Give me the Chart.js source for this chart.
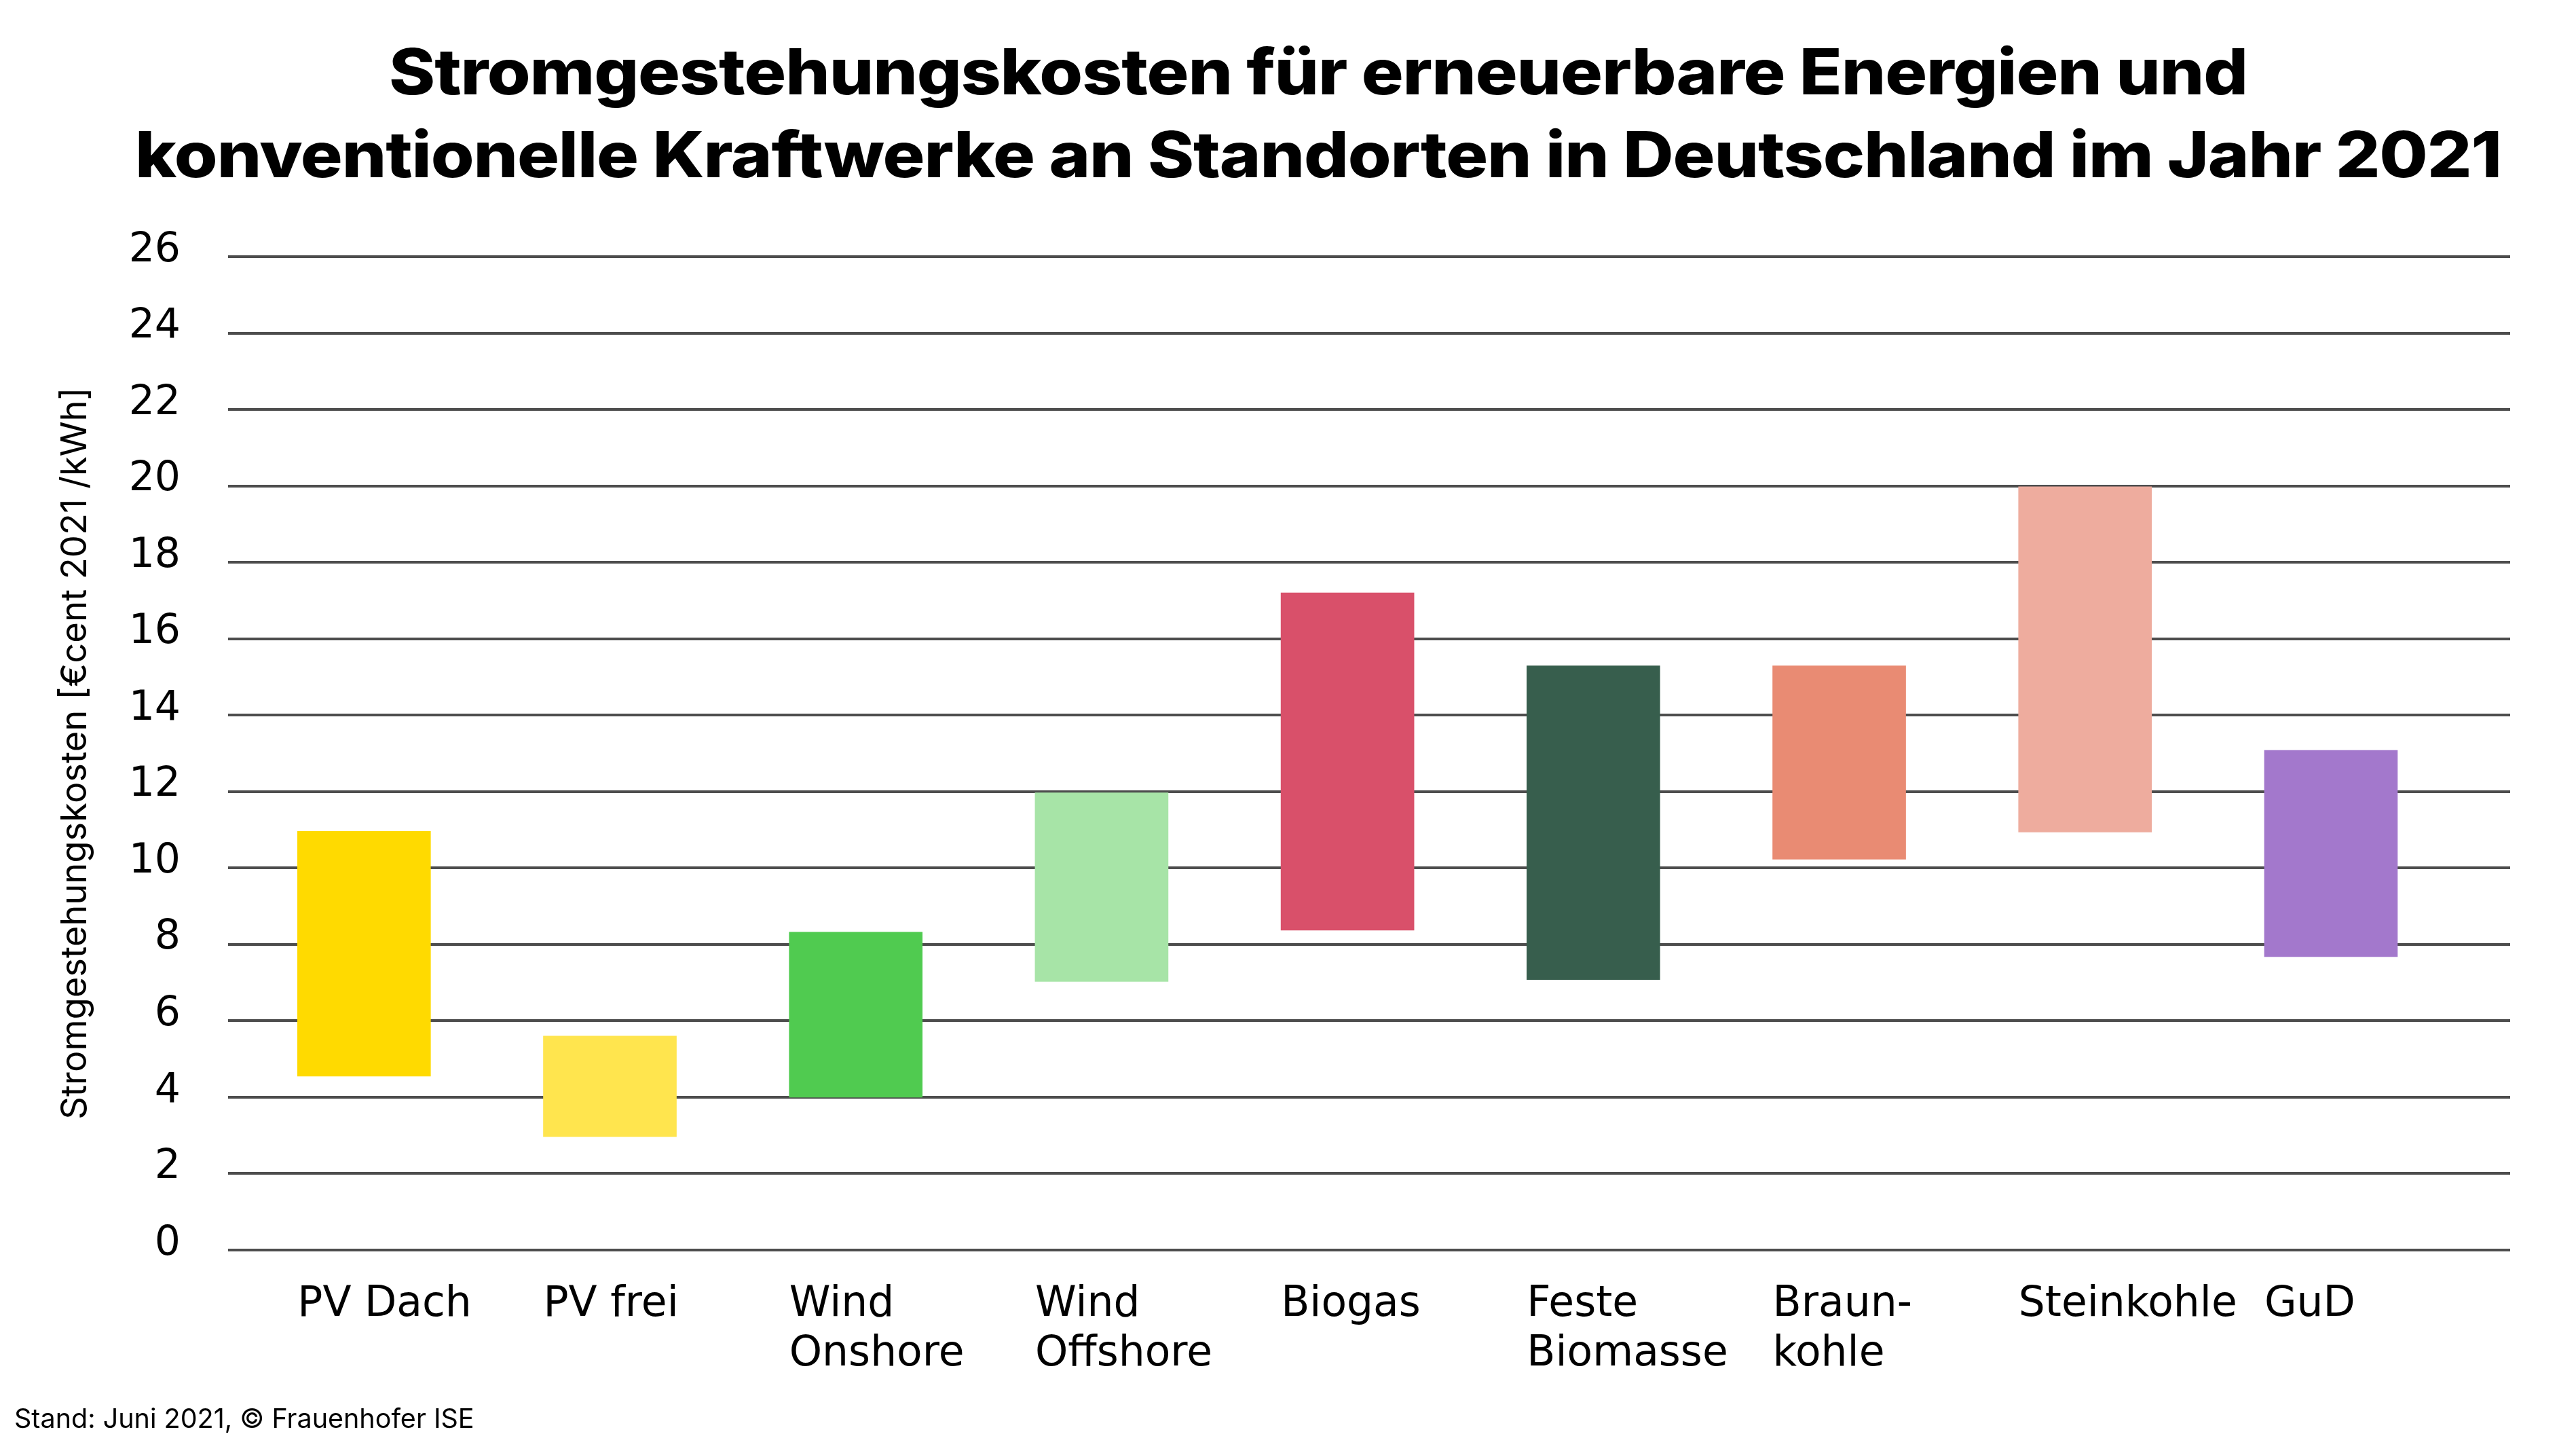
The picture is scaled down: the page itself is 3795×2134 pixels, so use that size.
<!DOCTYPE html>
<html>
<head>
<meta charset="utf-8">
<script src="https://cdn.jsdelivr.net/npm/chart.js@4.4.1/dist/chart.umd.min.js"></script>
<style>
  html, body { margin: 0; padding: 0; background: #ffffff; }
  body { width: 3795px; height: 2134px; position: relative; overflow: hidden; font-family: Inter, "Noto Sans", sans-serif; }
  #wrap { position: absolute; left: 0; top: 0; width: 3795px; height: 2134px; }
  #title { position: absolute; left: 0; top: 44px; width: 3884px; text-align: center; font-family: Inter, sans-serif; font-weight: 800; font-size: 93px; line-height: 122px; letter-spacing: -1px; color: #000; transform: scaleX(1.11); transform-origin: 1942px 0; white-space: nowrap; }
  #footer { position: absolute; left: 21px; top: 2066px; font-family: Inter, sans-serif; font-weight: 400; font-size: 39.5px; line-height: 46px; color: #000; white-space: nowrap; }
</style>
</head>
<body>
<div id="wrap"><canvas id="chart"></canvas></div>
<div id="title">Stromgestehungskosten für erneuerbare Energien und<br>konventionelle Kraftwerke an Standorten in Deutschland im Jahr 2021</div>
<div id="footer">Stand: Juni 2021, © Frauenhofer ISE</div>
<script>
// ---- data ----
const categories = [["PV Dach"], ["PV frei"], ["Wind", "Onshore"], ["Wind", "Offshore"], ["Biogas"], ["Feste", "Biomasse"], ["Braun-", "kohle"], ["Steinkohle"], ["GuD"]];
const lowValues  = [4.55, 2.97, 4.00, 7.03, 8.37, 7.08, 10.23, 10.94, 7.68];
const highValues = [10.96, 5.60, 8.32, 11.97, 17.20, 15.29, 15.29, 19.98, 13.08];
const barColors  = ["#FFDA00", "#FFE54E", "#50CB50", "#A7E4A7", "#D9506A", "#375E4D", "#E98B73", "#EEAC9E", "#A378CC"];
const yMin = 0, yMax = 26, yStep = 2;
const yTitle = "Stromgestehungskosten [€cent 2021 /kWh]";

const points = categories.map((c, i) => ({ x: i, y: [lowValues[i], highValues[i]] }));

new Chart(document.getElementById("chart"), {
  type: "bar",
  data: {
    datasets: [{
      data: points,
      backgroundColor: barColors,
      borderWidth: 0,
      borderSkipped: false,
      barThickness: 196
    }]
  },
  options: {
    responsive: true,
    maintainAspectRatio: false,
    devicePixelRatio: 1,
    animation: false,
    layout: { padding: { top: 378, left: 0, right: 97, bottom: 93 } },
    plugins: { legend: { display: false }, tooltip: { enabled: false }, title: { display: false } },
    scales: {
      x: {
        type: "linear",
        min: -0.553,
        max: 8.729,
        offset: false,
        grid: { display: false, offset: false },
        border: { display: false },
        afterBuildTicks: (scale) => { scale.ticks = categories.map((c, i) => ({ value: i })); },
        afterFit: (scale) => { scale.height = 200; },
        ticks: {
          stepSize: 1,
          includeBounds: false,
          autoSkip: false,
          maxRotation: 0,
          minRotation: 0,
          align: "start",
          labelOffset: -98,
          padding: 36,
          color: "#000",
          font: { family: "DejaVu Sans", size: 61.5, weight: 400, lineHeight: 1.19 },
          callback: (v) => categories[v] || ""
        }
      },
      y: {
        min: yMin,
        max: yMax,
        z: 1,
        grid: { color: "#4d4d4d", lineWidth: 4, drawTicks: false },
        border: { display: false },
        afterFit: (scale) => { scale.width = 336; },
        ticks: {
          stepSize: yStep,
          padding: 70,
          labelOffset: -9,
          color: "#000",
          font: { family: "DejaVu Sans", size: 60, weight: 400 }
        },
        title: {
          display: true,
          text: yTitle,
          color: "#000",
          font: { family: "Inter", size: 52.5, weight: 400, lineHeight: 1.2 },
          padding: { top: 80, bottom: 0 }
        }
      }
    }
  }
});
</script>
</body>
</html>
